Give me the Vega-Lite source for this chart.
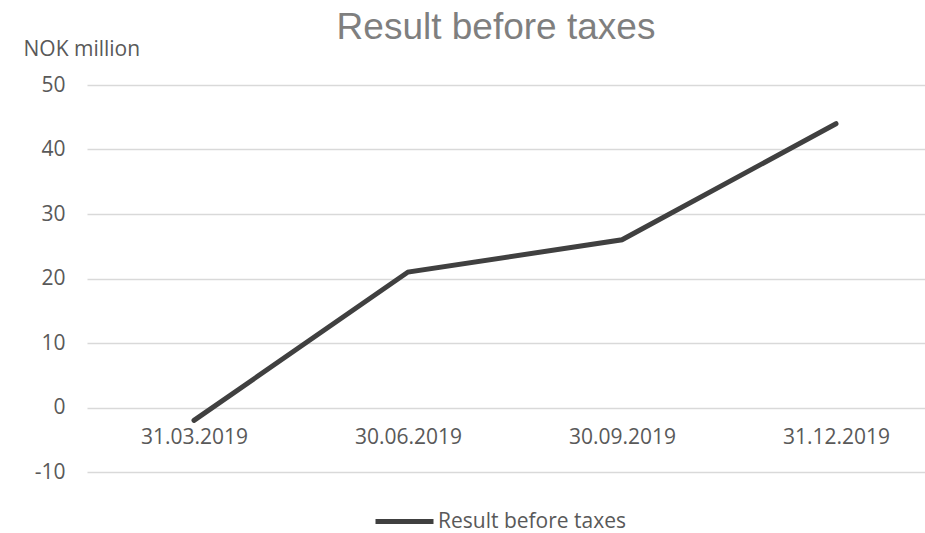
{
  "$schema": "https://vega.github.io/schema/vega-lite/v6.json",
  "width": 856,
  "height": 387,
  "autosize": {"type": "none"},
  "padding": {"left": 87, "top": 85, "right": 0, "bottom": 61},
  "background": "white",
  "title": {
    "text": "Result before taxes",
    "font": "Liberation Sans",
    "fontSize": 37,
    "fontWeight": "normal",
    "color": "#7f7f7f",
    "anchor": "middle",
    "frame": "group",
    "baseline": "alphabetic",
    "offset": -38,
    "dx": -19
  },
  "config": {
    "view": {"stroke": null},
    "font": "Open Sans"
  },
  "data": {
    "values": [
      {"date": "31.03.2019", "value": -2, "series": "Result before taxes"},
      {"date": "30.06.2019", "value": 21, "series": "Result before taxes"},
      {"date": "30.09.2019", "value": 26, "series": "Result before taxes"},
      {"date": "31.12.2019", "value": 44, "series": "Result before taxes"}
    ]
  },
  "mark": {"type": "line", "strokeWidth": 5, "strokeCap": "round", "strokeJoin": "miter"},
  "encoding": {
    "x": {
      "field": "date",
      "type": "ordinal",
      "sort": null,
      "scale": {"type": "point", "padding": 0.5},
      "axis": {
        "title": null,
        "orient": "bottom",
        "offset": -64.5,
        "domain": false,
        "ticks": false,
        "grid": false,
        "labelAngle": 0,
        "labelPadding": 19,
        "labelFont": "Open Sans",
        "labelFontSize": 21,
        "labelColor": "#595959"
      }
    },
    "y": {
      "field": "value",
      "type": "quantitative",
      "scale": {"domain": [-10, 50], "nice": false, "zero": false},
      "axis": {
        "values": [-10, 0, 10, 20, 30, 40, 50],
        "labelExpr": "'' + datum.value",
        "title": "NOK million",
        "titleAngle": 0,
        "titleAlign": "left",
        "titleBaseline": "alphabetic",
        "titleX": -64,
        "titleY": -30,
        "titleFont": "Open Sans",
        "titleFontSize": 21,
        "titleFontWeight": "normal",
        "titleColor": "#595959",
        "domain": false,
        "ticks": false,
        "grid": true,
        "gridColor": "#d9d9d9",
        "gridWidth": 1.3,
        "labelPadding": 22,
        "labelFont": "Open Sans",
        "labelFontSize": 21,
        "labelColor": "#595959"
      }
    },
    "color": {
      "field": "series",
      "type": "nominal",
      "scale": {"range": ["#404040"]},
      "legend": {
        "title": null,
        "orient": "none",
        "legendX": 286,
        "legendY": 405,
        "symbolType": "stroke",
        "symbolSize": 3364,
        "symbolStrokeWidth": 5,
        "labelFont": "Open Sans",
        "labelFontSize": 21,
        "labelColor": "#595959",
        "labelOffset": 2,
        "labelLimit": 400
      }
    }
  }
}
